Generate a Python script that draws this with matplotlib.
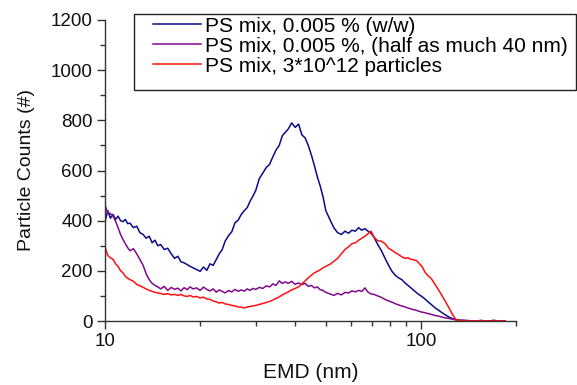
import matplotlib
matplotlib.use("Agg")
import matplotlib.pyplot as plt
from matplotlib.patches import Rectangle
from matplotlib.ticker import FixedLocator, FixedFormatter, NullFormatter, MultipleLocator

plt.rcParams["font.family"] = ["Liberation Sans", "DejaVu Sans"]

# Equivalent mobility diameter (nm), shared sampling for all three runs
emd = [
    10.0, 10.2, 10.4, 10.6, 10.8, 11.0, 11.2, 11.4, 11.6, 11.8,
    12.0, 12.3, 12.6, 12.9, 13.2, 13.5, 13.8, 14.1, 14.4, 14.7,
    15.0, 15.4, 15.8, 16.2, 16.6, 17.0, 17.4, 17.8, 18.2, 18.6, 19.0,
    19.5, 20.0, 20.5, 21.0, 21.5, 22.0, 22.5, 23.0, 23.5,
    24.0, 24.6, 25.2, 25.8, 26.4, 27.0, 27.6, 28.2, 28.8, 29.4,
    30.0, 30.8, 31.6, 32.4, 33.2, 34.0, 34.8, 35.6, 36.4, 37.2,
    38, 39, 40, 41, 42, 43, 44, 45, 46, 47, 48, 49, 50,
    51.5, 53, 54.5, 56, 57.5, 59, 60.5, 62, 63.5, 65, 66.5, 68, 69.5,
    71, 73, 75, 77, 79, 81, 83, 85, 87, 89, 91, 93, 95, 97, 99,
    101, 103, 105,
    108, 111, 114, 117, 120, 123, 126, 129, 132,
    136, 140,
    145, 150, 155, 160, 165, 170, 175, 180, 185,
]

counts_w = [
    395, 440, 410, 425, 405, 418, 400, 396, 405, 388,
    390, 372, 378, 352, 345, 330, 338, 312, 322, 300,
    305, 285, 290, 268, 250, 258, 236, 232, 225, 218, 212,
    205, 198, 215, 202, 228, 222, 245, 268, 285,
    318, 340, 356, 392, 402, 425, 440, 452, 478, 498,
    520, 568, 590, 612, 625, 655, 682, 700, 738, 752,
    765, 790, 772, 785, 742, 730, 700, 662, 620, 575, 538, 495, 440,
    405, 372, 352, 345, 358, 350, 362, 358, 372, 362, 368, 358, 350,
    335, 305, 280, 250, 222, 198, 182, 172, 165, 152, 142, 132, 122, 112, 104,
    96, 88, 78,
    65, 52, 42, 32, 23, 15, 9, 5, 3,
    2, 1,
    0, 0, 2, 0, 0, 3, 0, 0, 0,
]

counts_half40 = [
    462, 432, 428, 418, 398, 372, 345, 325, 308, 292,
    280, 288, 268, 245, 222, 188, 165, 150, 142, 136,
    128, 138, 122, 134, 126, 131, 120, 133, 125, 136, 128,
    132, 122, 135, 126, 120, 128, 115, 124, 118,
    112, 121, 116, 126, 118, 124, 119, 128, 122, 130,
    126, 134, 130, 140, 136, 148, 142, 160, 150, 156,
    150, 158, 146, 152, 145, 150, 138, 142, 132, 136, 125, 122, 114,
    108, 102, 110, 104, 114, 112, 120, 116, 122, 118, 132, 115, 108,
    106, 100, 94, 86, 80, 75, 69, 64, 60, 56, 52, 48, 45, 42, 38,
    35, 33, 30,
    26, 22, 19, 15, 12, 10, 7, 5, 3,
    3, 2,
    1, 0, 2, 0, 1, 0, 0, 0, 0,
]

counts_3e12 = [
    295, 262, 252, 246, 228, 218, 200, 192, 178, 170,
    165, 158, 146, 140, 134, 128, 122, 118, 114, 112,
    110, 106, 109, 104, 106, 102, 106, 100, 98, 102, 96,
    98, 92, 95, 88, 86, 80, 76, 72, 74,
    68, 66, 62, 60, 56, 55, 52, 56, 58, 60,
    62, 66, 70, 74, 78, 84, 90, 96, 104, 110,
    116, 124, 130, 136, 148, 160, 172, 182, 192, 198, 204, 212, 218,
    226, 238, 250, 268, 285, 296, 308, 312, 322, 330, 338, 348, 358,
    335, 320, 318, 308, 290, 282, 272, 265, 256, 250, 252, 246, 244, 240, 228,
    216, 195, 182,
    168, 145, 122, 98, 74, 50, 25, 6, 2,
    1, 0,
    0, 0, 0, 0, 0, 0, 0, 0, 0,
]

series_labels = [
    "PS mix, 0.005 % (w/w)",
    "PS mix, 0.005 %, (half as much 40 nm)",
    "PS mix, 3*10^12 particles",
]
series_colors = ["#0a0a8a", "#800a8c", "#ff1010"]

W, H = 577, 385
fig = plt.figure(figsize=(W / 100, H / 100), dpi=100)
ax = fig.add_axes([105 / W, 1 - 321 / H, (516 - 105) / W, (321 - 20) / H])

for ys, lab, col in zip([counts_w, counts_half40, counts_3e12], series_labels, series_colors):
    ax.plot(emd, ys, color=col, lw=1.1, label=lab)

ax.set_xscale("log")
ax.set_xlim(10, 200)
ax.set_ylim(0, 1200)

ax.xaxis.set_major_locator(FixedLocator([10, 100]))
ax.xaxis.set_major_formatter(FixedFormatter(["10", "100"]))
ax.xaxis.set_minor_locator(FixedLocator([20, 30, 40, 50, 60, 70, 80, 90, 200]))
ax.xaxis.set_minor_formatter(NullFormatter())
ax.yaxis.set_major_locator(MultipleLocator(200))
ax.yaxis.set_minor_locator(MultipleLocator(100))

for side in ("top", "right"):
    ax.spines[side].set_visible(False)
for side in ("left", "bottom"):
    ax.spines[side].set_linewidth(1.0)
    ax.spines[side].set_color("#333333")

ax.tick_params(which="major", direction="out", length=6, width=1.0,
               color="#333333", labelsize=13.5, labelcolor="#111111", pad=3)
ax.tick_params(which="minor", direction="out", length=3.5, width=1.0, color="#333333")

ax.set_xlabel("EMD (nm)", fontsize=15, color="#111111", labelpad=9)
ax.set_ylabel("Particle Counts (#)", fontsize=14, color="#111111", labelpad=11)

# legend entries without their own frame; the box is drawn as a separate rectangle
leg = ax.legend(loc="upper left", bbox_to_anchor=(153 / W, 1 - 16.5 / H),
                bbox_transform=fig.transFigure, borderaxespad=0,
                fontsize=15, frameon=False,
                handlelength=2.3, handletextpad=0.2, labelspacing=0.05,
                borderpad=0)
fig.patches.append(Rectangle((134 / W, 1 - 90 / H), (576 - 134) / W, (90 - 14) / H,
                             transform=fig.transFigure, fill=False,
                             edgecolor="#222222", linewidth=1.0))

fig.savefig("out.png", dpi=100)
